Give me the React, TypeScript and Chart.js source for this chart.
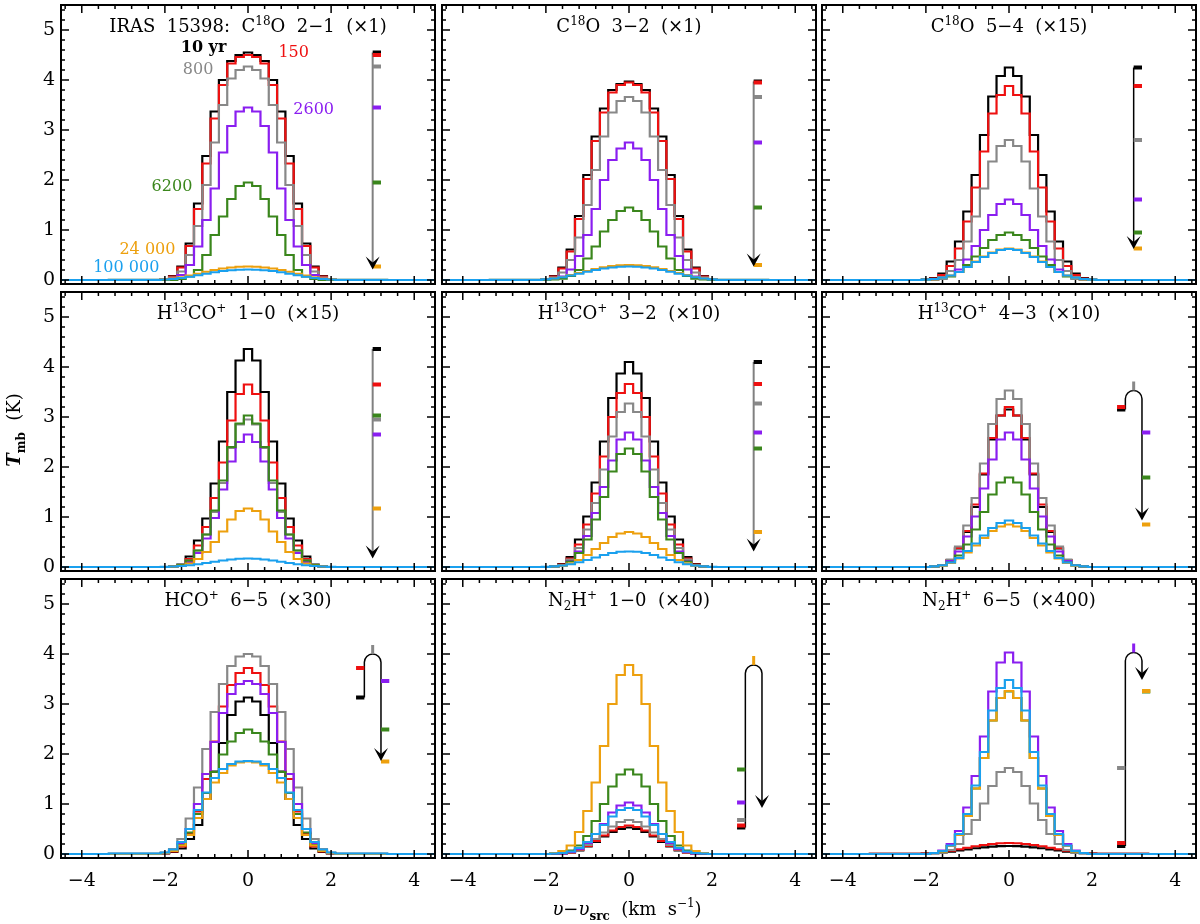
import React, { useEffect, useRef } from 'react';
import { Chart, registerables } from 'chart.js';

Chart.register(...registerables);
Chart.defaults.font.family = '"DejaVu Serif", serif';

// ---------- data ----------
const VELOCITY = [-2.2, -2.0, -1.8, -1.6, -1.4, -1.2, -1.0, -0.8, -0.6, -0.4, -0.2, 0, 0.2, 0.4, 0.6, 0.8, 1.0, 1.2, 1.4, 1.6, 1.8, 2.0, 2.2];
const X_TICKS = [-4, -2, 0, 2, 4];
const Y_TICKS = [0, 1, 2, 3, 4, 5];
const AGE_LABELS = ['10 yr', '150', '800', '2600', '6200', '24 000', '100 000'];

// series order: 10 yr, 150, 800, 2600, 6200, 24 000, 100 000
const C18O_2_1 = [
  [0, 0.02, 0.08, 0.27, 0.73, 1.53, 2.48, 3.37, 4.0, 4.38, 4.5, 4.55, 4.5, 4.38, 4.0, 3.37, 2.48, 1.53, 0.73, 0.27, 0.08, 0.02, 0],
  [0, 0.02, 0.07, 0.25, 0.68, 1.42, 2.33, 3.23, 3.9, 4.33, 4.46, 4.5, 4.46, 4.33, 3.9, 3.23, 2.33, 1.42, 0.68, 0.25, 0.07, 0.02, 0],
  [0, 0.01, 0.05, 0.17, 0.5, 1.08, 1.9, 2.75, 3.5, 4.03, 4.2, 4.27, 4.2, 4.03, 3.5, 2.75, 1.9, 1.08, 0.5, 0.17, 0.05, 0.01, 0],
  [0, 0, 0.03, 0.1, 0.3, 0.67, 1.2, 1.83, 2.55, 3.08, 3.37, 3.45, 3.37, 3.08, 2.55, 1.83, 1.2, 0.67, 0.3, 0.1, 0.03, 0, 0],
  [0, 0, 0, 0.02, 0.07, 0.2, 0.5, 0.9, 1.27, 1.62, 1.88, 1.95, 1.88, 1.62, 1.27, 0.9, 0.5, 0.2, 0.07, 0.02, 0, 0, 0],
  [0.005, 0.015, 0.03, 0.055, 0.09, 0.125, 0.165, 0.2, 0.23, 0.25, 0.265, 0.27, 0.265, 0.25, 0.23, 0.2, 0.165, 0.125, 0.09, 0.055, 0.03, 0.015, 0.005],
  [0.003, 0.01, 0.02, 0.04, 0.065, 0.095, 0.125, 0.155, 0.18, 0.195, 0.205, 0.21, 0.205, 0.195, 0.18, 0.155, 0.125, 0.095, 0.065, 0.04, 0.02, 0.01, 0.003],
];
const C18O_3_2 = [
  [0, 0.02, 0.08, 0.25, 0.61, 1.28, 2.1, 2.87, 3.43, 3.8, 3.92, 3.97, 3.92, 3.8, 3.43, 2.87, 2.1, 1.28, 0.61, 0.25, 0.08, 0.02, 0],
  [0, 0.02, 0.07, 0.23, 0.57, 1.22, 2.02, 2.78, 3.35, 3.75, 3.9, 3.95, 3.9, 3.75, 3.35, 2.78, 2.02, 1.22, 0.57, 0.23, 0.07, 0.02, 0],
  [0, 0.01, 0.05, 0.15, 0.4, 0.85, 1.5, 2.2, 2.87, 3.35, 3.58, 3.66, 3.58, 3.35, 2.87, 2.2, 1.5, 0.85, 0.4, 0.15, 0.05, 0.01, 0],
  [0, 0, 0.02, 0.07, 0.21, 0.48, 0.9, 1.42, 2.0, 2.4, 2.63, 2.75, 2.63, 2.4, 2.0, 1.42, 0.9, 0.48, 0.21, 0.07, 0.02, 0, 0],
  [0, 0, 0.01, 0.025, 0.08, 0.2, 0.43, 0.67, 0.97, 1.2, 1.38, 1.45, 1.38, 1.2, 0.97, 0.67, 0.43, 0.2, 0.08, 0.025, 0.01, 0, 0],
  [0.005, 0.015, 0.03, 0.06, 0.1, 0.14, 0.18, 0.22, 0.255, 0.28, 0.295, 0.3, 0.295, 0.28, 0.255, 0.22, 0.18, 0.14, 0.1, 0.06, 0.03, 0.015, 0.005],
  [0.004, 0.012, 0.03, 0.055, 0.09, 0.125, 0.165, 0.2, 0.23, 0.25, 0.265, 0.27, 0.265, 0.25, 0.23, 0.2, 0.165, 0.125, 0.09, 0.055, 0.03, 0.012, 0.004],
];
const C18O_5_4 = [
  [0, 0.01, 0.04, 0.13, 0.37, 0.77, 1.37, 2.1, 2.9, 3.67, 4.08, 4.25, 4.08, 3.67, 2.9, 2.1, 1.37, 0.77, 0.37, 0.13, 0.04, 0.01, 0],
  [0, 0, 0.03, 0.1, 0.28, 0.63, 1.17, 1.85, 2.57, 3.33, 3.7, 3.88, 3.7, 3.33, 2.57, 1.85, 1.17, 0.63, 0.28, 0.1, 0.03, 0, 0],
  [0, 0, 0.02, 0.06, 0.18, 0.4, 0.77, 1.27, 1.83, 2.37, 2.68, 2.8, 2.68, 2.37, 1.83, 1.27, 0.77, 0.4, 0.18, 0.06, 0.02, 0, 0],
  [0, 0, 0.01, 0.03, 0.08, 0.21, 0.41, 0.68, 1.0, 1.3, 1.52, 1.61, 1.52, 1.3, 1.0, 0.68, 0.41, 0.21, 0.08, 0.03, 0.01, 0, 0],
  [0, 0, 0.01, 0.03, 0.07, 0.16, 0.3, 0.47, 0.64, 0.8, 0.9, 0.95, 0.9, 0.8, 0.64, 0.47, 0.3, 0.16, 0.07, 0.03, 0.01, 0, 0],
  [0, 0.005, 0.015, 0.04, 0.09, 0.16, 0.26, 0.37, 0.47, 0.55, 0.61, 0.63, 0.61, 0.55, 0.47, 0.37, 0.26, 0.16, 0.09, 0.04, 0.015, 0.005, 0],
  [0, 0.008, 0.02, 0.045, 0.09, 0.16, 0.26, 0.36, 0.46, 0.54, 0.6, 0.62, 0.6, 0.54, 0.46, 0.36, 0.26, 0.16, 0.09, 0.045, 0.02, 0.008, 0],
];
const H13COP_1_0 = [
  [0, 0, 0.01, 0.05, 0.21, 0.53, 0.97, 1.67, 2.51, 3.5, 4.13, 4.36, 4.13, 3.5, 2.51, 1.67, 0.97, 0.53, 0.21, 0.05, 0.01, 0, 0],
  [0, 0, 0.01, 0.04, 0.16, 0.43, 0.8, 1.38, 2.09, 2.93, 3.46, 3.65, 3.46, 2.93, 2.09, 1.38, 0.8, 0.43, 0.16, 0.04, 0.01, 0, 0],
  [0, 0, 0.01, 0.04, 0.13, 0.33, 0.65, 1.1, 1.68, 2.38, 2.85, 2.95, 2.85, 2.38, 1.68, 1.1, 0.65, 0.33, 0.13, 0.04, 0.01, 0, 0],
  [0, 0, 0.01, 0.03, 0.1, 0.28, 0.57, 0.98, 1.55, 2.11, 2.5, 2.65, 2.5, 2.11, 1.55, 0.98, 0.57, 0.28, 0.1, 0.03, 0.01, 0, 0],
  [0, 0, 0.01, 0.04, 0.13, 0.33, 0.65, 1.13, 1.73, 2.4, 2.87, 3.03, 2.87, 2.4, 1.73, 1.13, 0.65, 0.33, 0.13, 0.04, 0.01, 0, 0],
  [0, 0, 0.01, 0.025, 0.07, 0.16, 0.3, 0.5, 0.71, 0.95, 1.12, 1.17, 1.12, 0.95, 0.71, 0.5, 0.3, 0.16, 0.07, 0.025, 0.01, 0, 0],
  [0, 0.004, 0.01, 0.02, 0.035, 0.055, 0.08, 0.105, 0.13, 0.15, 0.165, 0.17, 0.165, 0.15, 0.13, 0.105, 0.08, 0.055, 0.035, 0.02, 0.01, 0.004, 0],
];
const H13COP_3_2 = [
  [0, 0, 0.01, 0.06, 0.2, 0.55, 1.01, 1.69, 2.51, 3.38, 3.87, 4.1, 3.87, 3.38, 2.51, 1.69, 1.01, 0.55, 0.2, 0.06, 0.01, 0, 0],
  [0, 0, 0.01, 0.05, 0.17, 0.45, 0.85, 1.47, 2.21, 3.0, 3.48, 3.66, 3.48, 3.0, 2.21, 1.47, 0.85, 0.45, 0.17, 0.05, 0.01, 0, 0],
  [0, 0, 0.01, 0.04, 0.15, 0.38, 0.75, 1.28, 1.95, 2.61, 3.1, 3.27, 3.1, 2.61, 1.95, 1.28, 0.75, 0.38, 0.15, 0.04, 0.01, 0, 0],
  [0, 0, 0.01, 0.035, 0.12, 0.31, 0.62, 1.08, 1.6, 2.13, 2.55, 2.69, 2.55, 2.13, 1.6, 1.08, 0.62, 0.31, 0.12, 0.035, 0.01, 0, 0],
  [0, 0, 0.01, 0.03, 0.11, 0.28, 0.55, 0.95, 1.4, 1.91, 2.26, 2.37, 2.26, 1.91, 1.4, 0.95, 0.55, 0.28, 0.11, 0.03, 0.01, 0, 0],
  [0, 0, 0.01, 0.03, 0.07, 0.14, 0.24, 0.36, 0.48, 0.6, 0.67, 0.7, 0.67, 0.6, 0.48, 0.36, 0.24, 0.14, 0.07, 0.03, 0.01, 0, 0],
  [0, 0.004, 0.012, 0.03, 0.055, 0.095, 0.14, 0.19, 0.24, 0.28, 0.305, 0.31, 0.305, 0.28, 0.24, 0.19, 0.14, 0.095, 0.055, 0.03, 0.012, 0.004, 0],
];
const H13COP_4_3 = [
  [0, 0, 0.01, 0.04, 0.14, 0.37, 0.7, 1.2, 1.85, 2.55, 3.03, 3.15, 3.03, 2.55, 1.85, 1.2, 0.7, 0.37, 0.14, 0.04, 0.01, 0, 0],
  [0, 0, 0.01, 0.04, 0.14, 0.38, 0.72, 1.25, 1.87, 2.58, 3.03, 3.2, 3.03, 2.58, 1.87, 1.25, 0.72, 0.38, 0.14, 0.04, 0.01, 0, 0],
  [0, 0, 0.01, 0.04, 0.15, 0.41, 0.83, 1.38, 2.07, 2.86, 3.36, 3.53, 3.36, 2.86, 2.07, 1.38, 0.83, 0.41, 0.15, 0.04, 0.01, 0, 0],
  [0, 0, 0.01, 0.035, 0.12, 0.31, 0.61, 1.01, 1.57, 2.15, 2.55, 2.69, 2.55, 2.15, 1.57, 1.01, 0.61, 0.31, 0.12, 0.035, 0.01, 0, 0],
  [0, 0, 0.01, 0.03, 0.09, 0.23, 0.45, 0.75, 1.1, 1.45, 1.69, 1.79, 1.69, 1.45, 1.1, 0.75, 0.45, 0.23, 0.09, 0.03, 0.01, 0, 0],
  [0, 0, 0.01, 0.03, 0.08, 0.17, 0.29, 0.43, 0.58, 0.72, 0.81, 0.85, 0.81, 0.72, 0.58, 0.43, 0.29, 0.17, 0.08, 0.03, 0.01, 0, 0],
  [0, 0, 0.012, 0.035, 0.09, 0.18, 0.32, 0.47, 0.63, 0.78, 0.88, 0.93, 0.88, 0.78, 0.63, 0.47, 0.32, 0.18, 0.09, 0.035, 0.012, 0, 0],
];
const HCOP_6_5 = [
  [0, 0.01, 0.04, 0.11, 0.3, 0.58, 1.1, 1.65, 2.22, 2.78, 3.05, 3.13, 3.05, 2.78, 2.22, 1.65, 1.1, 0.58, 0.3, 0.11, 0.04, 0.01, 0],
  [0, 0.015, 0.05, 0.15, 0.4, 0.85, 1.5, 2.25, 2.95, 3.38, 3.62, 3.72, 3.62, 3.38, 2.95, 2.25, 1.5, 0.85, 0.4, 0.15, 0.05, 0.015, 0],
  [0.01, 0.03, 0.1, 0.3, 0.71, 1.33, 2.1, 2.84, 3.4, 3.76, 3.95, 4.0, 3.95, 3.76, 3.4, 2.84, 2.1, 1.33, 0.71, 0.3, 0.1, 0.03, 0.01],
  [0, 0.02, 0.07, 0.2, 0.5, 1.0, 1.6, 2.24, 2.82, 3.2, 3.4, 3.46, 3.4, 3.2, 2.82, 2.24, 1.6, 1.0, 0.5, 0.2, 0.07, 0.02, 0],
  [0, 0.02, 0.06, 0.18, 0.43, 0.8, 1.22, 1.64, 1.99, 2.25, 2.42, 2.49, 2.42, 2.25, 1.99, 1.64, 1.22, 0.8, 0.43, 0.18, 0.06, 0.02, 0],
  [0, 0.02, 0.06, 0.17, 0.38, 0.72, 1.1, 1.43, 1.62, 1.77, 1.83, 1.85, 1.83, 1.77, 1.62, 1.43, 1.1, 0.72, 0.38, 0.17, 0.06, 0.02, 0],
  [0.01, 0.03, 0.09, 0.24, 0.5, 0.88, 1.23, 1.52, 1.7, 1.8, 1.85, 1.86, 1.85, 1.8, 1.7, 1.52, 1.23, 0.88, 0.5, 0.24, 0.09, 0.03, 0.01],
];
const N2HP_1_0 = [
  [0, 0, 0, 0.01, 0.03, 0.07, 0.15, 0.24, 0.35, 0.44, 0.5, 0.53, 0.5, 0.44, 0.35, 0.24, 0.15, 0.07, 0.03, 0.01, 0, 0, 0],
  [0, 0, 0, 0.01, 0.03, 0.08, 0.16, 0.26, 0.37, 0.47, 0.54, 0.57, 0.54, 0.47, 0.37, 0.26, 0.16, 0.08, 0.03, 0.01, 0, 0, 0],
  [0, 0, 0, 0.01, 0.04, 0.09, 0.18, 0.3, 0.43, 0.55, 0.64, 0.68, 0.64, 0.55, 0.43, 0.3, 0.18, 0.09, 0.04, 0.01, 0, 0, 0],
  [0, 0, 0, 0.01, 0.04, 0.1, 0.22, 0.4, 0.6, 0.83, 0.97, 1.03, 0.97, 0.83, 0.6, 0.4, 0.22, 0.1, 0.04, 0.01, 0, 0, 0],
  [0, 0, 0.01, 0.02, 0.07, 0.17, 0.36, 0.66, 1.0, 1.35, 1.59, 1.69, 1.59, 1.35, 1.0, 0.66, 0.36, 0.17, 0.07, 0.02, 0.01, 0, 0],
  [0, 0, 0.02, 0.06, 0.17, 0.44, 0.86, 1.43, 2.16, 3.0, 3.58, 3.78, 3.58, 3.0, 2.16, 1.43, 0.86, 0.44, 0.17, 0.06, 0.02, 0, 0],
  [0, 0, 0.01, 0.02, 0.05, 0.12, 0.24, 0.4, 0.58, 0.75, 0.88, 0.92, 0.88, 0.75, 0.58, 0.4, 0.24, 0.12, 0.05, 0.02, 0.01, 0, 0],
];
const N2HP_6_5 = [
  [0.002, 0.007, 0.016, 0.03, 0.048, 0.07, 0.093, 0.115, 0.133, 0.148, 0.157, 0.16, 0.157, 0.148, 0.133, 0.115, 0.093, 0.07, 0.048, 0.03, 0.016, 0.007, 0.002],
  [0.003, 0.01, 0.02, 0.04, 0.065, 0.095, 0.125, 0.155, 0.18, 0.2, 0.215, 0.22, 0.215, 0.2, 0.18, 0.155, 0.125, 0.095, 0.065, 0.04, 0.02, 0.01, 0.003],
  [0, 0, 0.01, 0.03, 0.08, 0.2, 0.4, 0.68, 1.01, 1.36, 1.64, 1.72, 1.64, 1.36, 1.01, 0.68, 0.4, 0.2, 0.08, 0.03, 0.01, 0, 0],
  [0, 0, 0.02, 0.07, 0.2, 0.46, 0.93, 1.56, 2.35, 3.25, 3.83, 4.03, 3.83, 3.25, 2.35, 1.56, 0.93, 0.46, 0.2, 0.07, 0.02, 0, 0],
  [0, 0, 0.02, 0.05, 0.16, 0.38, 0.76, 1.31, 1.92, 2.67, 3.12, 3.25, 3.12, 2.67, 1.92, 1.31, 0.76, 0.38, 0.16, 0.05, 0.02, 0, 0],
  [0, 0, 0.02, 0.05, 0.16, 0.38, 0.76, 1.31, 1.92, 2.67, 3.12, 3.26, 3.12, 2.67, 1.92, 1.31, 0.76, 0.38, 0.16, 0.05, 0.02, 0, 0],
  [0, 0, 0.02, 0.06, 0.17, 0.4, 0.8, 1.37, 2.04, 2.87, 3.32, 3.48, 3.32, 2.87, 2.04, 1.37, 0.8, 0.4, 0.17, 0.06, 0.02, 0, 0],
];

const PANEL_SERIES = [C18O_2_1, C18O_3_2, C18O_5_4, H13COP_1_0, H13COP_3_2, H13COP_4_3, HCOP_6_5, N2HP_1_0, N2HP_6_5];

type Seg = [string, ('sup' | 'sub')?];
const PANEL_TITLES: Seg[][] = [
  [['IRAS  15398:  C'], ['18', 'sup'], ['O  2\u22121  (\u00d71)']],
  [['C'], ['18', 'sup'], ['O  3\u22122  (\u00d71)']],
  [['C'], ['18', 'sup'], ['O  5\u22124  (\u00d715)']],
  [['H'], ['13', 'sup'], ['CO'], ['+', 'sup'], ['  1\u22120  (\u00d715)']],
  [['H'], ['13', 'sup'], ['CO'], ['+', 'sup'], ['  3\u22122  (\u00d710)']],
  [['H'], ['13', 'sup'], ['CO'], ['+', 'sup'], ['  4\u22123  (\u00d710)']],
  [['HCO'], ['+', 'sup'], ['  6\u22125  (\u00d730)']],
  [['N'], ['2', 'sub'], ['H'], ['+', 'sup'], ['  1\u22120  (\u00d740)']],
  [['N'], ['2', 'sub'], ['H'], ['+', 'sup'], ['  6\u22125  (\u00d7400)']],
];

// ---------- styles / layout ----------
const SERIES_COLORS = ['#000000', '#ee1010', '#888888', '#8a1ef0', '#3a861c', '#eda00e', '#1aa0ee'];
const ARROW_COLORS = ['#808080', '#808080', '#000000', '#808080', '#808080', '#000000', '#000000', '#000000', '#000000'];
const ARROW_WIDTHS = [2, 2, 1.5, 2, 2, 1.5, 1.5, 1.5, 1.5];
const LABEL_POS = [[-1.07, 4.64], [1.1, 4.54], [-1.2, 4.2], [1.58, 3.4], [-1.83, 1.87], [-2.42, 0.6], [-2.93, 0.24]];
const COL_LEFT = [61, 442, 822];
const ROW_TOP = [5, 292, 579];
const FRAME_W = 374;
const FRAME_H = 279;
const Y_AXIS_W = 40;
const X_AXIS_H = 40;
const PAD = 4;
const FONT = '"DejaVu Serif", serif';

const minus = (v: number) => (v < 0 ? '\u2212' + Math.abs(v) : String(v));

function makeDecor(p: number) {
  return {
    id: 'decor',
    afterDatasetsDraw(chart: any) {
      const { ctx, chartArea: a, scales } = chart;
      const xs = scales.x;
      const ys = scales.y;
      const X = (v: number) => xs.getPixelForValue(v);
      const Y = (v: number) => ys.getPixelForValue(v);
      ctx.save();

      // frame
      ctx.strokeStyle = '#000';
      ctx.lineWidth = 2;
      ctx.strokeRect(a.left, a.top, a.right - a.left, a.bottom - a.top);

      // inward ticks on all sides
      ctx.lineWidth = 1.5;
      ctx.beginPath();
      for (let i = -11; i <= 11; i++) {
        const v = i * 0.4;
        const len = i % 5 === 0 ? 8 : 4;
        const px = X(v);
        ctx.moveTo(px, a.bottom); ctx.lineTo(px, a.bottom - len);
        ctx.moveTo(px, a.top); ctx.lineTo(px, a.top + len);
      }
      for (let i = 0; i <= 27; i++) {
        const v = i * 0.2;
        const len = i % 5 === 0 ? 8 : 4;
        const py = Y(v);
        ctx.moveTo(a.left, py); ctx.lineTo(a.left + len, py);
        ctx.moveTo(a.right, py); ctx.lineTo(a.right - len, py);
      }
      ctx.stroke();

      // peak markers with evolution arrow
      const series = PANEL_SERIES[p];
      const peaks = series.map((s) => Math.max(...s));
      const last = peaks.length - 1;
      let m = 0;
      for (let i = 0; i < peaks.length; i++) if (peaks[i] > peaks[m]) m = i;
      ctx.strokeStyle = ARROW_COLORS[p];
      ctx.lineWidth = ARROW_WIDTHS[p];
      let tipX: number;
      const tipY = Y(peaks[last]);
      ctx.beginPath();
      if (m === 0) {
        tipX = X(3.0);
        ctx.moveTo(tipX, Y(peaks[0]));
        ctx.lineTo(tipX, tipY - 6);
      } else {
        const xl = X(2.8), xc = X(3.0), xr = X(3.2);
        const r = xc - xl;
        const yt = Y(peaks[m]);
        ctx.moveTo(xl, Y(peaks[0]));
        ctx.lineTo(xl, yt + r);
        ctx.arc(xc, yt + r, r, Math.PI, 2 * Math.PI, false);
        ctx.lineTo(xr, tipY - 6);
        tipX = xr;
      }
      ctx.stroke();

      ctx.lineCap = 'butt';
      for (let i = 0; i < last; i++) {
        ctx.strokeStyle = SERIES_COLORS[i];
        ctx.beginPath();
        const py = Y(peaks[i]);
        if (m === 0) {
          ctx.lineWidth = 4;
          ctx.moveTo(X(3.0), py); ctx.lineTo(X(3.2), py);
        } else if (i < m) {
          ctx.lineWidth = 4;
          ctx.moveTo(X(2.6), py); ctx.lineTo(X(2.8), py);
        } else if (i === m) {
          ctx.lineWidth = 3;
          ctx.moveTo(X(3.0), py); ctx.lineTo(X(3.0), py - 9);
        } else {
          ctx.lineWidth = 4;
          ctx.moveTo(X(3.2), py); ctx.lineTo(X(3.4), py);
        }
        ctx.stroke();
      }

      // arrowhead
      ctx.fillStyle = '#000';
      ctx.beginPath();
      ctx.moveTo(tipX, tipY);
      ctx.lineTo(tipX - 7, tipY - 13);
      ctx.lineTo(tipX, tipY - 7);
      ctx.lineTo(tipX + 7, tipY - 13);
      ctx.closePath();
      ctx.fill();

      // title
      const segs = PANEL_TITLES[p];
      const base = 18, small = 12;
      let total = 0;
      const widths = segs.map(([t, k]) => {
        ctx.font = `${k ? small : base}px ${FONT}`;
        const w = ctx.measureText(t).width;
        total += w;
        return w;
      });
      let tx = (a.left + a.right) / 2 - total / 2;
      const ty = a.top + 27;
      ctx.fillStyle = '#000';
      ctx.textBaseline = 'alphabetic';
      ctx.textAlign = 'left';
      segs.forEach(([t, k], i) => {
        ctx.font = `${k ? small : base}px ${FONT}`;
        const dy = k === 'sup' ? -7 : k === 'sub' ? 4 : 0;
        ctx.fillText(t, tx, ty + dy);
        tx += widths[i];
      });

      // age labels in first panel
      if (p === 0) {
        ctx.textAlign = 'center';
        ctx.textBaseline = 'middle';
        AGE_LABELS.forEach((lab, i) => {
          ctx.font = `${i === 0 ? 'bold ' : ''}16px ${FONT}`;
          ctx.fillStyle = SERIES_COLORS[i];
          ctx.fillText(lab, X(LABEL_POS[i][0]), Y(LABEL_POS[i][1]));
        });
      }
      ctx.restore();
    },
  };
}

function Panel({ p }: { p: number }) {
  const ref = useRef<HTMLCanvasElement>(null);
  const row = Math.floor(p / 3);
  const col = p % 3;
  const showY = col === 0;
  const showX = row === 2;
  const padL = showY ? Y_AXIS_W : PAD;
  const padB = showX ? X_AXIS_H : PAD;
  const w = FRAME_W + padL + PAD;
  const h = FRAME_H + PAD + padB;
  const left = COL_LEFT[col] - padL;
  const top = ROW_TOP[row] - PAD;

  useEffect(() => {
    if (!ref.current) return;
    const datasets = PANEL_SERIES[p].map((vals, i) => ({
      label: AGE_LABELS[i],
      data: [{ x: -4.5, y: 0 }, ...VELOCITY.map((v, k) => ({ x: v, y: vals[k] })), { x: 4.5, y: 0 }],
      borderColor: SERIES_COLORS[i],
      borderWidth: 2.2,
      pointRadius: 0,
      fill: false,
      stepped: 'middle' as const,
      order: 6 - i,
    }));
    const chart = new Chart(ref.current, {
      type: 'line',
      data: { datasets },
      options: {
        animation: false,
        responsive: false,
        maintainAspectRatio: false,
        events: [],
        layout: { padding: { left: showY ? 0 : PAD, right: PAD, top: PAD, bottom: showX ? 0 : PAD } },
        plugins: { legend: { display: false }, tooltip: { enabled: false } },
        scales: {
          x: {
            type: 'linear',
            min: -4.5,
            max: 4.5,
            display: showX,
            grid: { display: false, drawTicks: false },
            border: { display: false },
            ticks: {
              color: '#000',
              font: { family: FONT, size: 19 },
              padding: 12,
              autoSkip: false,
              maxRotation: 0,
              callback: (v: any) => minus(Number(v)),
            },
            afterBuildTicks: (s: any) => { s.ticks = X_TICKS.map((v) => ({ value: v })); },
            afterFit: (s: any) => { s.height = showX ? X_AXIS_H : 0; s.paddingLeft = 0; s.paddingRight = 0; },
          },
          y: {
            type: 'linear',
            min: -0.08,
            max: 5.5,
            display: showY,
            grid: { display: false, drawTicks: false },
            border: { display: false },
            ticks: {
              color: '#000',
              font: { family: FONT, size: 19 },
              padding: 6,
              autoSkip: false,
              callback: (v: any) => minus(Number(v)),
            },
            afterBuildTicks: (s: any) => { s.ticks = Y_TICKS.map((v) => ({ value: v })); },
            afterFit: (s: any) => { s.width = showY ? Y_AXIS_W : 0; s.paddingTop = 0; s.paddingBottom = 0; },
          },
        },
      } as any,
      plugins: [makeDecor(p)],
    });
    return () => chart.destroy();
  }, [p]);

  return (
    <canvas
      ref={ref}
      width={w}
      height={h}
      style={{ position: 'absolute', left, top, width: w, height: h }}
    />
  );
}

export default function App() {
  return (
    <div style={{ position: 'absolute', left: 0, top: 0, width: 1200, height: 924, background: '#fff', fontFamily: FONT, color: '#000' }}>
      {PANEL_SERIES.map((_, p) => <Panel key={p} p={p} />)}
      <div style={{ position: 'absolute', left: 427, top: 898, width: 400, textAlign: 'center', fontSize: 18, lineHeight: '22px', whiteSpace: 'pre' }}>
        <i>{'\u03c5'}</i>{'\u2212'}<i>{'\u03c5'}</i>
        <span style={{ fontSize: 12, fontWeight: 'bold', position: 'relative', top: 5 }}>src</span>
        {'  (km  s'}
        <span style={{ fontSize: 12, position: 'relative', top: -8 }}>{'\u22121'}</span>
        {')'}
      </div>
      <div style={{ position: 'absolute', left: 14 - 100, top: 430 - 11, width: 200, height: 22, lineHeight: '22px', textAlign: 'center', fontSize: 18, whiteSpace: 'pre', transform: 'rotate(-90deg)' }}>
        <i style={{ fontWeight: 'bold' }}>T</i>
        <span style={{ fontSize: 12, fontWeight: 'bold', position: 'relative', top: 5 }}>mb</span>
        {'  (K)'}
      </div>
    </div>
  );
}
